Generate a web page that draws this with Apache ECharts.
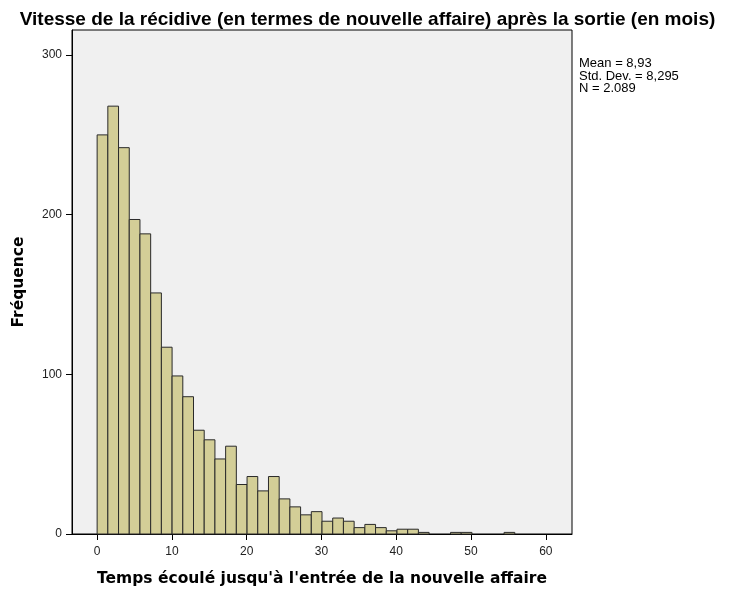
<!DOCTYPE html>
<html>
<head>
<meta charset="utf-8">
<script src="https://cdn.jsdelivr.net/npm/echarts@6/dist/echarts.min.js"></script>
<style>
html, body { margin: 0; padding: 0; background: #ffffff; }
#chart { width: 735px; height: 592px; }
</style>
</head>
<body>
<div id="chart"></div>
<script>
// histogram bins: start of first bin and bin width (months)
var binOrigin = 0
var binWidth = 1.432
// frequency per bin
var counts = [250, 268, 242, 197, 188, 151, 117, 99, 86, 65,
              59, 47, 55, 31, 36, 27, 36, 22, 17, 12,
              14, 8, 10, 8, 4, 6, 4, 2, 3, 3,
              1, 0, 0, 1, 1, 0, 0, 0, 1]
var xTicks = [0, 10, 20, 30, 40, 50, 60]
var yTicks = [0, 100, 200, 300]
var statsLines = ['Mean = 8,93', 'Std. Dev. = 8,295', 'N = 2.089']

var bins = []
counts.forEach(function (c, i) {
    if (c > 0) {
        bins.push([binOrigin + i * binWidth, binOrigin + (i + 1) * binWidth, c])
    }
})

var sans = 'Liberation Sans, Arial, sans-serif'
var wide = 'DejaVu Sans, Verdana, sans-serif'

var chart = echarts.init(document.getElementById('chart'))
chart.setOption({
    animation: false,
    textStyle: { fontFamily: sans },
    title: {
        text: 'Vitesse de la récidive (en termes de nouvelle affaire) après la sortie (en mois)',
        left: 'center',
        top: 5,
        textStyle: { fontSize: 19, fontWeight: 'bold', color: '#000', fontFamily: sans }
    },
    grid: {
        left: 72,
        right: 163,
        top: 30,
        bottom: 57,
        show: true,
        backgroundColor: '#f0f0f0',
        borderColor: '#000',
        borderWidth: 1
    },
    xAxis: {
        type: 'value',
        min: -3.36,
        max: 63.5,
        name: "Temps écoulé jusqu'à l'entrée de la nouvelle affaire",
        nameLocation: 'middle',
        nameGap: 37,
        nameTextStyle: { fontSize: 15.5, fontWeight: 'bold', color: '#000', fontFamily: wide },
        axisLine: { onZero: false, lineStyle: { color: '#000', width: 1 } },
        axisTick: { show: true, length: 6, customValues: xTicks, lineStyle: { color: '#000' } },
        axisLabel: { customValues: xTicks, fontSize: 12, color: '#222', margin: 12 },
        splitLine: { show: false }
    },
    yAxis: {
        type: 'value',
        min: 0,
        max: 315.7,
        name: 'Fréquence',
        nameLocation: 'middle',
        nameGap: 45,
        nameTextStyle: { fontSize: 15.5, fontWeight: 'bold', color: '#000', fontFamily: wide },
        axisLine: { show: true, onZero: false, lineStyle: { color: '#000', width: 1 } },
        axisTick: { show: true, length: 6, customValues: yTicks, lineStyle: { color: '#000' } },
        axisLabel: { customValues: yTicks, fontSize: 12, color: '#222', margin: 10 },
        splitLine: { show: false }
    },
    graphic: statsLines.map(function (t, i) {
        return {
            type: 'text',
            left: 579,
            top: 57 + i * 12.5,
            style: { text: t, fontSize: 13, fill: '#000', fontFamily: sans }
        }
    }),
    series: [
        {
            type: 'custom',
            data: bins,
            encode: { x: [0, 1], y: 2 },
            renderItem: function (params, api) {
                var p0 = api.coord([api.value(0), api.value(2)])
                var p1 = api.coord([api.value(1), 0])
                return {
                    type: 'rect',
                    shape: { x: p0[0], y: p0[1], width: p1[0] - p0[0], height: p1[1] - p0[1] },
                    style: { fill: '#d3ce97', stroke: '#2a2a2a', lineWidth: 1 }
                }
            }
        }
    ]
})
</script>
</body>
</html>
